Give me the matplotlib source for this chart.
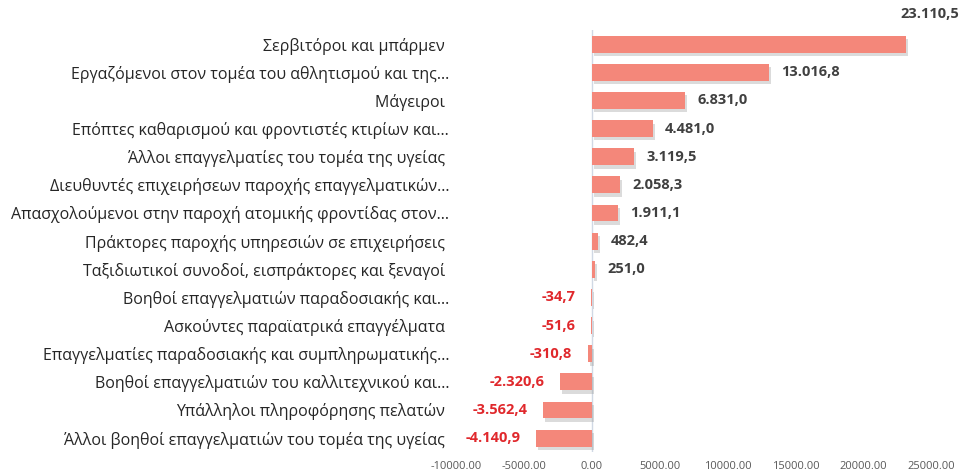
import matplotlib
matplotlib.use("Agg")
import matplotlib.pyplot as plt
import matplotlib.patheffects as pe
from matplotlib.ticker import FuncFormatter

plt.rcParams['font.family'] = ['Open Sans', 'DejaVu Sans']

# categories, top to bottom
occupations = [
    "Σερβιτόροι και μπάρμεν ",
    "Εργαζόμενοι στον τομέα του αθλητισμού και της…",
    "Μάγειροι ",
    "Επόπτες καθαρισμού και φροντιστές κτιρίων και…",
    "Άλλοι επαγγελματίες του τομέα της υγείας ",
    "Διευθυντές επιχειρήσεων παροχής επαγγελματικών…",
    "Απασχολούμενοι στην παροχή ατομικής φροντίδας στον…",
    "Πράκτορες παροχής υπηρεσιών σε επιχειρήσεις ",
    "Ταξιδιωτικοί συνοδοί, εισπράκτορες και ξεναγοί ",
    "Βοηθοί επαγγελματιών παραδοσιακής και…",
    "Ασκούντες παραϊατρικά επαγγέλματα ",
    "Επαγγελματίες παραδοσιακής και συμπληρωματικής…",
    "Βοηθοί επαγγελματιών του καλλιτεχνικού και…",
    "Υπάλληλοι πληροφόρησης πελατών ",
    "Άλλοι βοηθοί επαγγελματιών του τομέα της υγείας ",
]
change = [23110.5, 13016.8, 6831.0, 4481.0, 3119.5, 2058.3, 1911.1, 482.4,
          251.0, -34.7, -51.6, -310.8, -2320.6, -3562.4, -4140.9]

bar_color = "#F4877A"


def gr_number(v):
    s = f"{abs(v):,.1f}".replace(",", "X").replace(".", ",").replace("X", ".")
    return ("-" if v < 0 else "") + s


fig = plt.figure(figsize=(9.66, 4.76), dpi=100)
ax = fig.add_axes([0.472, 0.050, 0.492, 0.887])

ypos = list(range(len(occupations)))
bars = ax.barh(ypos, change, height=0.6, color=bar_color, zorder=3)
for b in bars:
    b.set_path_effects([pe.SimplePatchShadow(offset=(1.5, -2.5), shadow_rgbFace="#999999", alpha=0.35),
                        pe.Normal()])

ax.set_xlim(-10000, 25000)
ax.set_ylim(len(occupations) - 0.5, -0.5)
ax.axvline(0, color="#D0D8E4", lw=1, zorder=2)

ax.set_yticks(ypos)
ax.set_yticklabels(occupations, fontsize=11.5, color="#262626")
ax.set_xticks(range(-10000, 25001, 5000))
ax.xaxis.set_major_formatter(FuncFormatter(lambda v, p: f"{v:.2f}"))
ax.tick_params(axis="x", length=0, labelsize=8, labelcolor="#595959", pad=6)
ax.tick_params(axis="y", length=0, pad=5)
for s in ax.spines.values():
    s.set_visible(False)

for i, v in enumerate(change):
    if i == 0:
        ax.annotate(gr_number(v), (v, i), xytext=(-4, 22), textcoords="offset points",
                    ha="left", va="center", fontsize=10.5, fontweight="bold", color="#404040")
    elif v >= 0:
        ax.annotate(gr_number(v), (v, i), xytext=(9, 0), textcoords="offset points",
                    ha="left", va="center", fontsize=10.5, fontweight="bold", color="#404040")
    else:
        ax.annotate(gr_number(v), (v, i), xytext=(-11, 0), textcoords="offset points",
                    ha="right", va="center", fontsize=10.5, fontweight="bold", color="#E0282C")

fig.savefig("out.png", dpi=100)
